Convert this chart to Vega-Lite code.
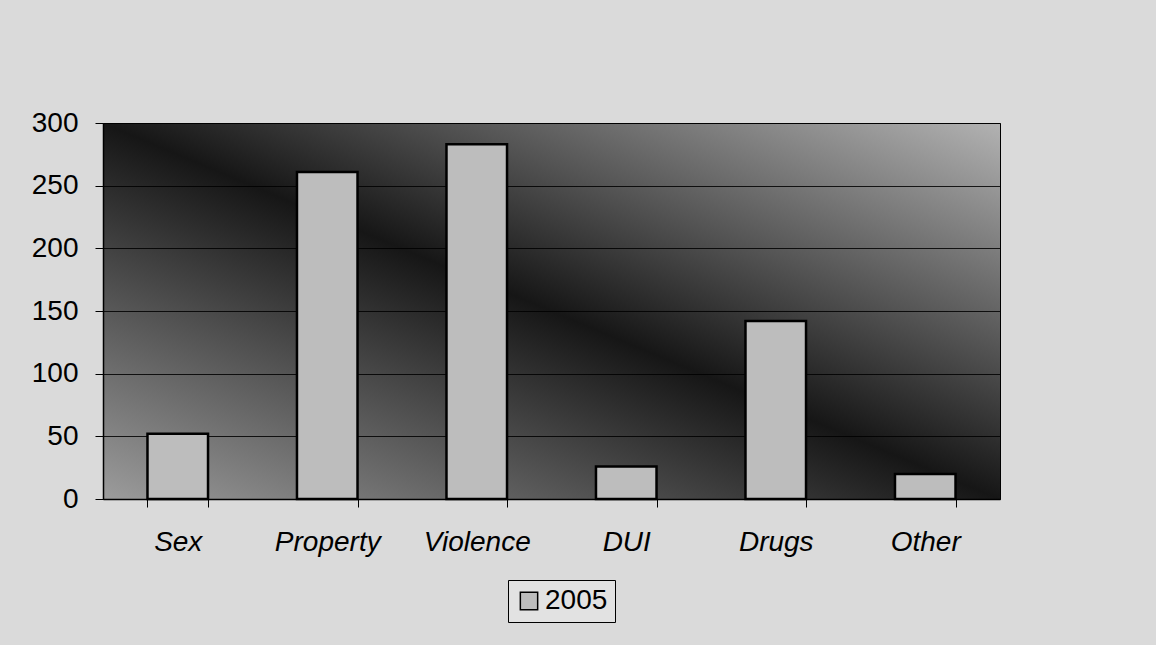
{
  "$schema": "https://vega.github.io/schema/vega-lite/v6.json",
  "width": 897,
  "height": 376,
  "autosize": {"type": "none"},
  "padding": {"left": 103, "top": 123, "right": 156, "bottom": 146},
  "background": "#dadada",
  "data": {
    "values": [
      {"category": "Sex", "count": 52, "year": "2005"},
      {"category": "Property", "count": 261, "year": "2005"},
      {"category": "Violence", "count": 283, "year": "2005"},
      {"category": "DUI", "count": 26, "year": "2005"},
      {"category": "Drugs", "count": 142, "year": "2005"},
      {"category": "Other", "count": 20, "year": "2005"}
    ]
  },
  "mark": {"type": "bar", "stroke": "#000000", "strokeWidth": 2.5},
  "encoding": {
    "x": {
      "field": "category",
      "type": "nominal",
      "sort": null,
      "scale": {"paddingInner": 0.595, "paddingOuter": 0.2975},
      "axis": {
        "title": null,
        "labelAngle": 0,
        "labelFont": "Liberation Sans",
        "labelFontSize": 28,
        "labelFontStyle": "italic",
        "labelColor": "#000000",
        "labelPadding": 21,
        "bandPosition": 0,
        "tickBand": "extent",
        "ticks": true,
        "tickSize": 8,
        "tickColor": "#000000",
        "domainColor": "#000000",
        "domainWidth": 1.5
      }
    },
    "y": {
      "field": "count",
      "type": "quantitative",
      "scale": {"domain": [0, 300], "nice": false},
      "axis": {
        "title": null,
        "values": [0, 50, 100, 150, 200, 250, 300],
        "labelFont": "Liberation Sans",
        "labelFontSize": 28,
        "labelColor": "#000000",
        "labelPadding": 17,
        "tickSize": 8,
        "tickColor": "#000000",
        "domainColor": "#000000",
        "domainWidth": 1.5,
        "grid": true,
        "gridColor": "#000000",
        "gridOpacity": 0.85,
        "gridWidth": 1
      }
    },
    "color": {
      "field": "year",
      "type": "nominal",
      "scale": {"range": ["#bdbdbd"]},
      "legend": {
        "title": null,
        "orient": "none",
        "legendX": 405,
        "legendY": 457,
        "symbolType": "square",
        "symbolSize": 300,
        "symbolStrokeColor": "#000000",
        "symbolStrokeWidth": 1.5,
        "labelFont": "Liberation Sans",
        "labelFontSize": 28,
        "labelColor": "#000000",
        "labelOffset": 2,
        "strokeColor": "#000000",
        "fillColor": "#e2e2e2",
        "padding": 7
      }
    }
  },
  "config": {
    "view": {
      "stroke": "#000000",
      "strokeWidth": 1,
      "fill": {
        "gradient": "linear",
        "x1": 0, "y1": 1, "x2": 1, "y2": 0,
        "stops": [
          {"offset": 0, "color": "#9c9c9c"},
          {"offset": 0.3, "color": "#4c4c4c"},
          {"offset": 0.5, "color": "#161616"},
          {"offset": 0.7, "color": "#555555"},
          {"offset": 1, "color": "#b2b2b2"}
        ]
      }
    }
  }
}
